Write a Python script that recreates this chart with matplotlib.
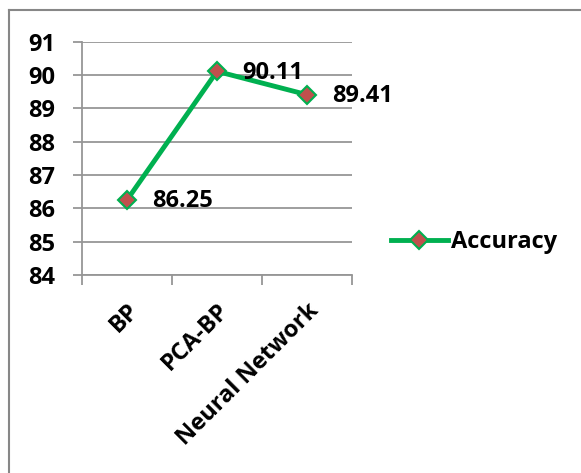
import matplotlib
matplotlib.use("Agg")
import matplotlib.pyplot as plt
from matplotlib.lines import Line2D

categories = ["BP", "PCA-BP", "Neural Network"]
accuracy = [86.25, 90.11, 89.41]
y_ticks = [84, 85, 86, 87, 88, 89, 90, 91]

plt.rcParams["font.family"] = ["Open Sans", "DejaVu Sans"]
plt.rcParams["font.weight"] = "bold"

W, H = 581, 473
fig = plt.figure(figsize=(W / 100, H / 100), dpi=100)
fig.patch.set_facecolor("white")

# chart frame (left and top edges)
fig.add_artist(Line2D([8.5 / W, 8.5 / W], [0, 1 - 10.5 / H], color="#878787", lw=1.5, transform=fig.transFigure))
fig.add_artist(Line2D([8.5 / W, 1], [1 - 10.5 / H, 1 - 10.5 / H], color="#878787", lw=1.5, transform=fig.transFigure))

ax = fig.add_axes([82 / W, 198 / H, 270 / W, 233.3 / H])
x = list(range(len(categories)))

grid_c = "#969696"
ax.set_ylim(84, 91)
ax.set_xlim(-0.5, len(categories) - 0.5)
ax.set_yticks(y_ticks)
ax.yaxis.grid(True, color=grid_c, lw=1.3)
ax.set_axisbelow(True)
for s in ["top", "right"]:
    ax.spines[s].set_visible(False)
for s in ["left", "bottom"]:
    ax.spines[s].set_color(grid_c)
    ax.spines[s].set_linewidth(1.3)

ax.tick_params(axis="y", length=6.5, width=1.3, color=grid_c, labelsize=17, pad=13)
for t in ax.get_yticklabels():
    t.set_fontweight("bold")
ax.set_xticks(x)
ax.set_xticklabels(categories, rotation=45, ha="right", rotation_mode="anchor",
                   fontsize=17, fontweight="bold")
ax.tick_params(axis="x", length=0, pad=17)
ax.set_xticks([-0.5 + i for i in range(len(categories) + 1)], minor=True)
ax.tick_params(axis="x", which="minor", length=7, width=1.3, color=grid_c)

ax.plot(x, accuracy, color="#00B050", lw=3.5, marker="D", markersize=9,
        markerfacecolor="#C0504D", markeredgecolor="#00B050", markeredgewidth=1.5,
        label="Accuracy", clip_on=False, zorder=3)

for xi, v in zip(x, accuracy):
    ax.annotate(f"{v:.2f}", (xi, v), xytext=(18, -1), textcoords="offset points",
                ha="left", va="center", fontsize=17, fontweight="bold")

fig.legend(loc="center left", bbox_to_anchor=(391 / W, 1 - 242 / H), frameon=False,
           prop={"size": 17, "weight": "bold"}, handlelength=2.4, handletextpad=0.15,
           borderpad=0, borderaxespad=0)

fig.savefig("out.png", dpi=100)
